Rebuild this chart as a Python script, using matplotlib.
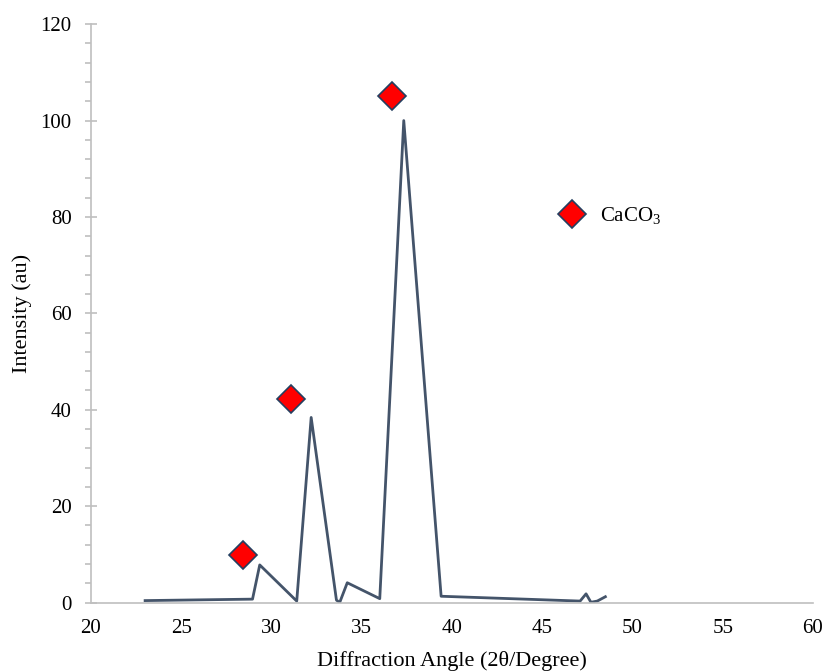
import matplotlib
matplotlib.use("Agg")
import matplotlib.pyplot as plt
from matplotlib.ticker import MultipleLocator

# XRD pattern
angle = [23.0, 28.95, 29.35, 31.4, 32.2, 33.6, 33.78, 34.2, 36.0, 37.33,
         39.4, 47.1, 47.43, 47.7, 48.05, 48.5]
intensity = [0.4, 0.7, 7.8, 0.3, 38.4, 0.5, 0.0, 4.1, 0.8, 100.0,
             1.3, 0.3, 1.8, 0.05, 0.3, 1.2]

# CaCO3 peak markers
caco3_angle = [28.45, 31.1, 36.67]
caco3_int = [9.8, 42.2, 105.0]

plt.rcParams['font.family'] = ['Liberation Serif', 'DejaVu Serif']
plt.rcParams['mathtext.fontset'] = 'custom'
plt.rcParams['mathtext.rm'] = 'Liberation Serif'
plt.rcParams['mathtext.it'] = 'Liberation Serif:italic'

fig = plt.figure(figsize=(8.27, 6.72), dpi=100)
ax = fig.add_axes([0.110, 0.1034, 0.873, 0.8606])

ax.plot(angle, intensity, color='#44546A', lw=2.0, zorder=2)
ax.plot(caco3_angle, caco3_int, ls='none', marker='D', ms=14.5,
        mfc='#FF0000', mec='#243F60', mew=1.2, label=r'CaCO$_\mathrm{3}$', zorder=3)

ax.set_xlim(20, 60)
ax.set_ylim(0, 120)
ax.xaxis.set_major_locator(MultipleLocator(5))
ax.yaxis.set_major_locator(MultipleLocator(20))
ax.yaxis.set_minor_locator(MultipleLocator(4))

for s in ['top', 'right']:
    ax.spines[s].set_visible(False)
for s in ['left', 'bottom']:
    ax.spines[s].set_color('#BFBFBF')
    ax.spines[s].set_linewidth(1.2)

ax.tick_params(axis='x', length=0, labelsize=15, pad=12)
ax.tick_params(axis='y', which='major', direction='inout', length=8,
               width=1.2, color='#BFBFBF', labelsize=15, pad=10)
ax.tick_params(axis='y', which='minor', direction='out', length=4,
               width=1.2, color='#BFBFBF')

ax.set_xlabel('Diffraction Angle (2\u03b8/Degree)', fontsize=16, labelpad=9)
ax.set_ylabel('Intensity (au)', fontsize=16, labelpad=6)

ax.legend(loc='upper left', bbox_to_anchor=(0.618, 0.719), frameon=False,
          fontsize=15, handletextpad=0.6, handlelength=1.5)

fig.savefig('out.png', dpi=100)
